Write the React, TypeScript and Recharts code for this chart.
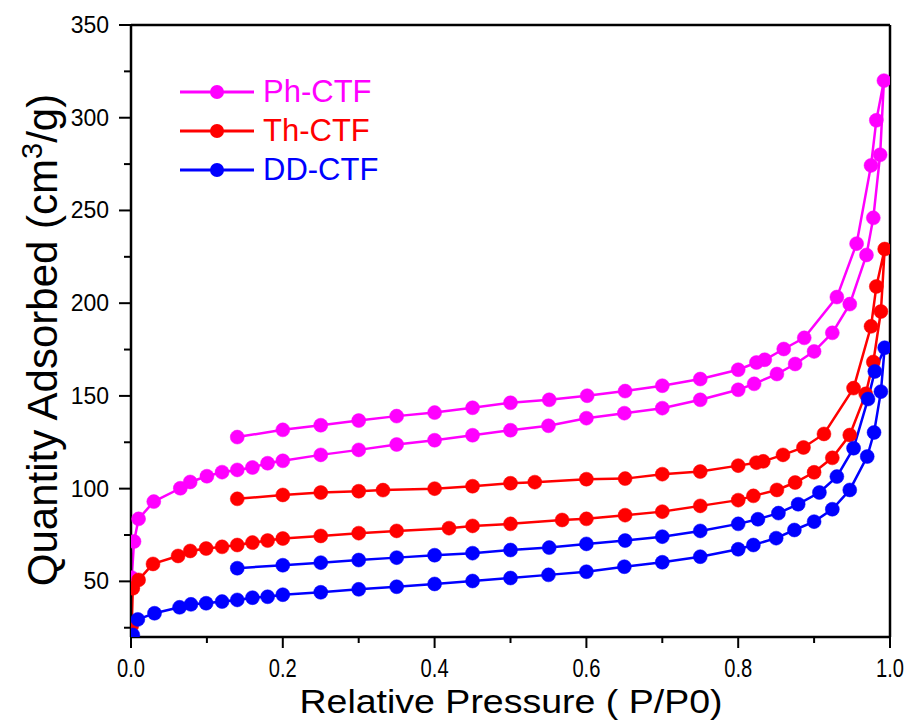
import React from 'react';
import { LineChart, Line, XAxis, YAxis, ReferenceLine } from 'recharts';

type Pt = [number, number];

const phAdsorption: Pt[] = [
  [0.001, 52], [0.004, 71.5], [0.01, 83.7], [0.03, 93], [0.065, 100.2], [0.078, 103.6],
  [0.1, 106.7], [0.12, 108.9], [0.14, 110.1], [0.16, 111.4], [0.18, 113.7], [0.2, 115],
  [0.25, 118.2], [0.3, 120.9], [0.35, 123.8], [0.4, 126.1], [0.45, 128.8], [0.5, 131.5],
  [0.55, 133.9], [0.6, 138.0], [0.65, 140.7], [0.7, 143.4], [0.75, 147.9], [0.8, 153.3],
  [0.821, 156.5], [0.851, 161.8], [0.875, 167.2], [0.9, 174], [0.924, 184], [0.947, 199.5],
  [0.969, 226], [0.978, 246], [0.987, 280], [0.992, 320],
];
const phDesorption: Pt[] = [
  [0.982, 298.6], [0.975, 274.3], [0.956, 232.1], [0.93, 203.3], [0.887, 181.3], [0.86, 175.3],
  [0.835, 169.5], [0.824, 168], [0.8, 164.1], [0.75, 159.1], [0.7, 155.5], [0.651, 152.6],
  [0.601, 150.1], [0.551, 147.9], [0.5, 146.3], [0.45, 143.6], [0.4, 141.0], [0.35, 139.1],
  [0.3, 136.7], [0.25, 134.2], [0.2, 131.7], [0.14, 127.8],
];
const thAdsorption: Pt[] = [
  [0.001, 26], [0.0024, 46.3], [0.01, 50.8], [0.029, 59.4], [0.062, 63.7], [0.078, 66.4],
  [0.099, 67.7], [0.12, 68.6], [0.14, 69.6], [0.16, 70.9], [0.18, 72.0], [0.2, 73.1],
  [0.25, 74.5], [0.3, 76.0], [0.35, 77.2], [0.419, 78.7], [0.45, 79.9], [0.5, 81.0],
  [0.568, 83.1], [0.6, 83.7], [0.651, 85.7], [0.7, 87.6], [0.75, 90.7], [0.8, 93.8],
  [0.82, 96.1], [0.851, 99.3], [0.875, 103.3], [0.9, 108.8], [0.924, 116.6], [0.947, 128.9],
  [0.968, 151.1], [0.978, 168.3], [0.988, 195.5], [0.993, 229.2],
];
const thDesorption: Pt[] = [
  [0.982, 209], [0.975, 187.5], [0.952, 154.2], [0.913, 129.5], [0.886, 122.2], [0.859, 118.2],
  [0.833, 114.7], [0.824, 114.0], [0.8, 112.4], [0.75, 109.2], [0.7, 107.8], [0.651, 105.4],
  [0.6, 105.1], [0.532, 103.5], [0.5, 102.9], [0.45, 101.3], [0.4, 100.0], [0.332, 99.2],
  [0.3, 98.6], [0.25, 97.9], [0.2, 96.6], [0.14, 94.5],
];
const ddAdsorption: Pt[] = [
  [0.0024, 21.1], [0.009, 29.5], [0.031, 32.8], [0.064, 36.0], [0.079, 37.6], [0.099, 38.2],
  [0.12, 39.1], [0.14, 40.0], [0.16, 41.2], [0.18, 41.7], [0.2, 42.8], [0.25, 44.1],
  [0.3, 45.7], [0.35, 47.1], [0.4, 48.6], [0.45, 50.2], [0.5, 51.8], [0.55, 53.5],
  [0.6, 55.2], [0.65, 57.9], [0.7, 60.3], [0.75, 63.3], [0.8, 67.3], [0.82, 69.6],
  [0.85, 73.3], [0.874, 77.7], [0.9, 82.2], [0.924, 88.9], [0.947, 99.3], [0.97, 117.3],
  [0.979, 130.3], [0.988, 152.3], [0.993, 176],
];
const ddDesorption: Pt[] = [
  [0.98, 163.2], [0.971, 148.3], [0.952, 121.8], [0.93, 106.5], [0.907, 97.9], [0.879, 91.6],
  [0.853, 86.8], [0.826, 83.5], [0.8, 81.0], [0.75, 77.2], [0.7, 74.1], [0.651, 72.0],
  [0.6, 70.2], [0.551, 68.2], [0.5, 66.9], [0.45, 65.2], [0.4, 64.1], [0.35, 62.8],
  [0.3, 61.5], [0.25, 60.1], [0.2, 58.7], [0.14, 57.1],
];

const seriesNames = ['Ph-CTF', 'Th-CTF', 'DD-CTF'];
const seriesColors = ['#FF00FF', '#FF0000', '#0000FF'];
const seriesBranches: Pt[][][] = [
  [phAdsorption, phDesorption],
  [thAdsorption, thDesorption],
  [ddAdsorption, ddDesorption],
];

const xTicks = [0, 0.1, 0.2, 0.3, 0.4, 0.5, 0.6, 0.7, 0.8, 0.9, 1.0];
const yTicks = [25, 50, 75, 100, 125, 150, 175, 200, 225, 250, 275, 300, 325, 350];

const FONT = '"Liberation Sans", Arial, Helvetica, sans-serif';

const toData = (branches: Pt[][]) =>
  branches.flat().map(([x, y]) => ({ x, y }));

const XTick = (props: any) => {
  const { x, y, payload } = props;
  const v = payload.value as number;
  const major = Math.round(v * 10) % 2 === 0;
  return (
    <g>
      <line x1={x} x2={x} y1={y} y2={y + (major ? 11 : 6)} stroke="#000" strokeWidth={2} />
      {major && (
        <text x={x} y={y + 40} textAnchor="middle" fontSize={25} fontFamily={FONT} fill="#000"
          textLength={28} lengthAdjust="spacingAndGlyphs">
          {v.toFixed(1)}
        </text>
      )}
    </g>
  );
};

const YTick = (props: any) => {
  const { x, y, payload } = props;
  const v = payload.value as number;
  const major = v % 50 === 0;
  return (
    <g>
      <line x1={x - (major ? 12 : 7)} x2={x} y1={y} y2={y} stroke="#000" strokeWidth={2} />
      {major && (
        <text x={x - 22} y={y + 8} textAnchor="end" fontSize={23} fontFamily={FONT} fill="#000">
          {v}
        </text>
      )}
    </g>
  );
};

const XTitle = () => (
  <text x={511} y={713} textAnchor="middle" fontSize={33} fontFamily={FONT} fill="#000"
    textLength={423} lengthAdjust="spacingAndGlyphs">
    Relative Pressure ( P/P0)
  </text>
);

const YTitle = () => (
  <text x={57} y={340} transform="rotate(-90, 57, 340)" textAnchor="middle" fontSize={42}
    fontFamily={FONT} fill="#000">
    Quantity Adsorbed (cm
    <tspan fontSize={29} dy={-15}>3</tspan>
    <tspan dy={15}>/g)</tspan>
  </text>
);

const legendCenters = [91.5, 131, 170];

export default function App() {
  return (
    <div style={{ position: 'absolute', left: 0, top: 0, width: 913, height: 722, background: '#fff' }}>
      <LineChart width={913} height={722} margin={{ top: 25, right: 23, left: 0, bottom: 25 }}>
        <XAxis
          dataKey="x"
          type="number"
          domain={[0, 1]}
          ticks={xTicks}
          interval={0}
          allowDataOverflow
          height={60}
          tickSize={0}
          tickMargin={0}
          tickLine={false}
          tick={<XTick />}
          axisLine={{ stroke: '#000', strokeWidth: 2.5 }}
          label={{ content: () => <XTitle /> }}
        />
        <YAxis
          dataKey="y"
          type="number"
          domain={[20, 350]}
          ticks={yTicks}
          interval={0}
          allowDataOverflow
          width={131}
          tickSize={0}
          tickMargin={0}
          tickLine={false}
          tick={<YTick />}
          axisLine={{ stroke: '#000', strokeWidth: 2.5 }}
          label={{ content: () => <YTitle /> }}
        />
        <ReferenceLine y={350} stroke="#000" strokeWidth={2.5} />
        <ReferenceLine x={1} stroke="#000" strokeWidth={2.5} />
        {seriesNames.map((name, i) => (
          <Line
            key={name}
            name={name}
            data={toData(seriesBranches[i])}
            dataKey="y"
            type="linear"
            stroke={seriesColors[i]}
            strokeWidth={2.5}
            dot={{ r: 7, fill: seriesColors[i], stroke: seriesColors[i], strokeWidth: 0.5 }}
            activeDot={false}
            isAnimationActive={false}
          />
        ))}
      </LineChart>
      {seriesNames.map((name, i) => (
        <div
          key={name}
          style={{
            position: 'absolute',
            left: 180,
            top: legendCenters[i] - 20,
            height: 40,
            display: 'flex',
            alignItems: 'center',
          }}
        >
          <svg width={74} height={40}>
            <line x1={0} x2={74} y1={20} y2={20} stroke={seriesColors[i]} strokeWidth={3} />
            <circle cx={37} cy={20} r={7} fill={seriesColors[i]} />
          </svg>
          <span
            style={{
              marginLeft: 9,
              fontFamily: FONT,
              fontSize: 31,
              lineHeight: '40px',
              color: seriesColors[i],
              whiteSpace: 'nowrap',
            }}
          >
            {name}
          </span>
        </div>
      ))}
    </div>
  );
}
